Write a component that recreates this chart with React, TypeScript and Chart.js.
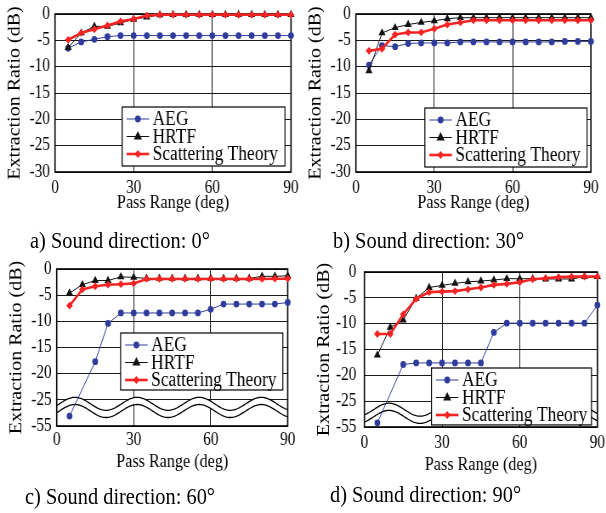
import React, { useEffect, useRef } from "react";
import { Chart, registerables } from "chart.js";

Chart.register(...registerables);

const S = 0.85; // horizontal squeeze of the whole figure
const FONT = "'Liberation Serif', 'Times New Roman', Times, serif";

const passRange = [5, 10, 15, 20, 25, 30, 35, 40, 45, 50, 55, 60, 65, 70, 75, 80, 85, 90];
const xTickValues = [0, 30, 60, 90];
const yTickValues = [0, -5, -10, -15, -20, -25, -30];
const yTickLabels = ["0", "-5", "-10", "-15", "-20", "-25", "-30"];
const yTickLabelsBroken = ["0", "-5", "-10", "-15", "-20", "-25", "-55"];
const seriesNames = ["AEG", "HRTF", "Scattering Theory"];
const captions = [
  "a) Sound direction: 0°",
  "b) Sound direction: 30°",
  "c) Sound direction: 60°",
  "d) Sound direction: 90°",
];

// a) 0 deg
const aeg0 = [-6.5, -5.3, -4.8, -4.3, -4.1, -4.1, -4.1, -4.1, -4.1, -4.1, -4.1, -4.1, -4.1, -4.1, -4.1, -4.1, -4.1, -4.1];
const hrtf0 = [-6.4, -3.6, -2.35, -2.35, -1.7, -1.0, -0.6, -0.15, -0.1, -0.1, -0.1, -0.1, -0.1, -0.1, -0.1, -0.1, -0.1, -0.1];
const scat0 = [-4.9, -3.6, -2.9, -2.2, -1.4, -0.95, -0.3, -0.15, -0.15, -0.15, -0.15, -0.15, -0.15, -0.15, -0.15, -0.15, -0.15, -0.15];

// b) 30 deg
const aeg30 = [-9.7, -6.0, -6.2, -5.6, -5.5, -5.5, -5.5, -5.3, -5.3, -5.3, -5.3, -5.3, -5.3, -5.3, -5.3, -5.2, -5.2, -5.2];
const hrtf30 = [-10.8, -3.6, -2.6, -2.0, -1.6, -1.3, -0.9, -0.7, -0.7, -0.7, -0.7, -0.7, -0.7, -0.7, -0.7, -0.7, -0.7, -0.7];
const scat30 = [-7.0, -6.6, -3.9, -3.5, -3.5, -2.8, -2.0, -1.6, -1.2, -1.2, -1.2, -1.2, -1.2, -1.2, -1.2, -1.2, -1.2, -1.2];

// c) 60 deg (values below -30 are on the broken part of the axis)
const aeg60 = [-53.1, null, -17.7, -10.4, -8.4, -8.4, -8.4, -8.4, -8.4, -8.4, -8.4, -7.7, -6.7, -6.7, -6.7, -6.7, -6.7, -6.4];
const hrtf60 = [-4.6, -3.0, -2.2, -2.2, -1.5, -1.6, -1.8, -1.8, -1.8, -1.8, -1.8, -1.8, -1.8, -1.8, -1.8, -1.4, -1.4, -1.3];
const scat60 = [-7.0, -3.9, -3.3, -3.0, -2.9, -2.75, -1.9, -1.9, -1.9, -1.9, -1.9, -1.9, -1.9, -1.9, -1.9, -1.9, -1.85, -1.85];

// d) 90 deg
const aeg90 = [-54.2, null, -17.9, -17.6, -17.6, -17.6, -17.6, -17.6, -17.6, -11.7, -9.9, -9.9, -9.9, -9.9, -9.9, -9.9, -9.9, -6.4];
const hrtf90 = [-16.1, -10.7, -9.3, -5.1, -3.0, -2.6, -2.2, -1.9, -1.75, -1.55, -1.3, -1.3, -1.3, -1.35, -1.35, -1.35, -0.9, -0.9];
const scat90 = [-12.0, -12.0, -8.2, -5.2, -3.9, -3.8, -3.7, -3.35, -3.0, -2.5, -2.3, -2.0, -1.4, -1.2, -1.0, -0.9, -0.9, -0.9];

const BLUE = "#2f3c9c";
const RED = "#f42424";
const BLACK = "#111111";

type PanelCfg = {
  caption: string;
  capLeft: number;
  capY: number;
  aeg: (number | null)[];
  hrtf: (number | null)[];
  scat: (number | null)[];
  broken: boolean;
  L: number; R: number; T: number; B: number;
  yTickPad: number;
  xTickGap: number;
  xTitleGap: number;
  legendBox: [number, number, number, number];
  wave?: { center: number; period: number; peak: number };
};

const panels: PanelCfg[] = [
  {
    caption: captions[0], capLeft: 30, capY: 240,
    aeg: aeg0, hrtf: hrtf0, scat: scat0, broken: false,
    L: 55, R: 291, T: 14, B: 172, yTickPad: 5, xTickGap: 16, xTitleGap: 31,
    legendBox: [25.6, 87.7, -17.66, -28.86],
  },
  {
    caption: captions[1], capLeft: 333, capY: 240,
    aeg: aeg30, hrtf: hrtf30, scat: scat30, broken: false,
    L: 356, R: 591, T: 14, B: 172, yTickPad: 5, xTickGap: 16, xTitleGap: 31,
    legendBox: [26.4, 88.5, -17.85, -29.05],
  },
  {
    caption: captions[2], capLeft: 25, capY: 496,
    aeg: aeg60, hrtf: hrtf60, scat: scat60, broken: true,
    L: 57, R: 288, T: 269, B: 426, yTickPad: 5, xTickGap: 14, xTitleGap: 36,
    legendBox: [24.9, 88.1, -12.23, -23.12],
    wave: { center: -25.76, period: 24.2, peak: 7.1 },
  },
  {
    caption: captions[3], capLeft: 330, capY: 494,
    aeg: aeg90, hrtf: hrtf90, scat: scat90, broken: true,
    L: 364, R: 597, T: 272, B: 427, yTickPad: 8, xTickGap: 16, xTitleGap: 38,
    legendBox: [25.9, 87.7, -18.58, -29.6],
    wave: { center: -26.65, period: 24, peak: 9.5 },
  },
];

const YW = 55 / S;
const PT = 24;
const PR = 18;
const XH = 52;
const TICK_SIZE = 18;
const XTITLE_SIZE = 19;
const YTITLE_SIZE = 20;
const LEGEND_SIZE = 20.5;
const CAPTION_SIZE = 24;
const GRID = "#1a1a1a";

function toPlot(v: number | null, broken: boolean): number | null {
  if (v === null) return null;
  return broken && v < -30 ? v + 25 : v;
}

function drawMarker(ctx: CanvasRenderingContext2D, style: string, x: number, y: number, r: number, color: string) {
  ctx.beginPath();
  if (style === "circle") {
    ctx.arc(x, y, r, 0, Math.PI * 2);
  } else if (style === "triangle") {
    ctx.moveTo(x, y - r * 1.15);
    ctx.lineTo(x + r, y + r * 0.6);
    ctx.lineTo(x - r, y + r * 0.6);
    ctx.closePath();
  } else {
    ctx.moveTo(x, y - r);
    ctx.lineTo(x + r, y);
    ctx.lineTo(x, y + r);
    ctx.lineTo(x - r, y);
    ctx.closePath();
  }
  ctx.fillStyle = color;
  ctx.fill();
}

function PanelChart({ p }: { p: PanelCfg }) {
  const ref = useRef<HTMLCanvasElement | null>(null);
  const plotW = (p.R - p.L) / S;
  const plotH = p.B - p.T;
  const cw = Math.round(YW + plotW + PR);
  const ch = Math.round(PT + plotH + XH);
  const left = (p.L - 55) / S;
  const top = p.T - PT;

  useEffect(() => {
    const canvas = ref.current;
    if (!canvas) return;
    const styles = ["circle", "triangle", "rectRot"];
    const radii = [3.4, 4.8, 3.9];
    const colors = [BLUE, BLACK, RED];
    const widths = [1, 1, 2.6];
    const series = [p.aeg, p.hrtf, p.scat];

    const datasets = series.map((arr, i) => ({
      label: seriesNames[i],
      data: passRange.map((x, j) => ({ x, y: toPlot(arr[j], p.broken) })),
      borderColor: colors[i],
      backgroundColor: colors[i],
      borderWidth: widths[i],
      pointStyle: styles[i] as any,
      pointRadius: radii[i],
      pointBorderWidth: 0,
      pointBackgroundColor: colors[i],
      tension: 0,
      spanGaps: true,
      clip: false as any,
      order: 2 - i,
    }));

    const framePlugin = {
      id: "frameAndWave",
      beforeDatasetsDraw(chart: any) {
        const { ctx, chartArea, scales } = chart;
        const xs = scales.x, ys = scales.y;
        ctx.save();
        if (p.wave) {
          const w = p.wave;
          const cU = ys.getPixelForValue(w.center);
          const cLo = cU + 7.2;
          const A = 6.5;
          const up: [number, number][] = [];
          const lo: [number, number][] = [];
          for (let px = chartArea.left; px <= chartArea.right + 0.01; px += 1) {
            const deg = xs.getValueForPixel(px);
            const ph = Math.cos((2 * Math.PI * (deg - w.peak)) / w.period);
            up.push([px, cU - A * ph]);
            lo.push([px, cLo - A * ph]);
          }
          ctx.beginPath();
          up.forEach(([a, b], k) => (k ? ctx.lineTo(a, b) : ctx.moveTo(a, b)));
          for (let k = lo.length - 1; k >= 0; k--) ctx.lineTo(lo[k][0], lo[k][1]);
          ctx.closePath();
          ctx.fillStyle = "#ffffff";
          ctx.fill();
          ctx.strokeStyle = "#000";
          ctx.lineWidth = 1.3;
          ctx.beginPath();
          up.forEach(([a, b], k) => (k ? ctx.lineTo(a, b) : ctx.moveTo(a, b)));
          ctx.stroke();
          ctx.beginPath();
          lo.forEach(([a, b], k) => (k ? ctx.lineTo(a, b) : ctx.moveTo(a, b)));
          ctx.stroke();
        }
        ctx.strokeStyle = "#000";
        ctx.lineWidth = 1.6;
        ctx.strokeRect(chartArea.left, chartArea.top, chartArea.right - chartArea.left, chartArea.bottom - chartArea.top);
        ctx.restore();
      },
    };

    const legendPlugin = {
      id: "boxLegend",
      afterDatasetsDraw(chart: any) {
        const { ctx, scales } = chart;
        const xs = scales.x, ys = scales.y;
        const b = p.legendBox;
        const x0 = xs.getPixelForValue(b[0]);
        const x1 = xs.getPixelForValue(b[1]);
        const y0 = ys.getPixelForValue(b[2]);
        const y1 = ys.getPixelForValue(b[3]);
        ctx.save();
        ctx.fillStyle = "#fff";
        ctx.fillRect(x0, y0, x1 - x0, y1 - y0);
        ctx.strokeStyle = "#000";
        ctx.lineWidth = 1.2;
        ctx.strokeRect(x0, y0, x1 - x0, y1 - y0);
        const rows = [12, 29.5, 47];
        chart.data.datasets.forEach((ds: any, i: number) => {
          const cy = y0 + rows[i];
          ctx.strokeStyle = ds.borderColor;
          ctx.lineWidth = ds.borderWidth;
          ctx.beginPath();
          ctx.moveTo(x0 + 4.5 / S, cy);
          ctx.lineTo(x0 + 27 / S, cy);
          ctx.stroke();
          drawMarker(ctx, ds.pointStyle, x0 + 15.75 / S, cy, ds.pointRadius, ds.borderColor);
          ctx.fillStyle = "#000";
          ctx.font = `${LEGEND_SIZE}px ${FONT}`;
          ctx.textBaseline = "middle";
          ctx.textAlign = "left";
          ctx.fillText(ds.label, x0 + 30.5 / S, cy + 1);
        });
        ctx.restore();
      },
    };

    const yLabels = p.broken ? yTickLabelsBroken : yTickLabels;

    const chart = new Chart(canvas, {
      type: "line",
      data: { datasets: datasets as any },
      options: {
        responsive: false,
        animation: false,
        events: [],
        layout: { padding: { top: PT, right: cw - YW - plotW, left: 0, bottom: 0 } },
        plugins: { legend: { display: false }, tooltip: { enabled: false }, title: { display: false } },
        scales: {
          x: {
            type: "linear",
            min: 0,
            max: 90,
            afterFit: (s: any) => { s.height = XH; },
            afterBuildTicks: (s: any) => { s.ticks = xTickValues.map((v) => ({ value: v })); },
            grid: { color: GRID, lineWidth: 1, drawTicks: false },
            border: { display: false },
            ticks: {
              color: "#000",
              font: { family: FONT, size: TICK_SIZE },
              padding: p.xTickGap - (TICK_SIZE * 1.2) / 2,
              maxRotation: 0,
              callback: (v: any) => String(v),
            },
            title: {
              display: true,
              text: "Pass Range (deg)",
              color: "#000",
              font: { family: FONT, size: XTITLE_SIZE },
              padding: { top: 0, bottom: XH - (XTITLE_SIZE * 1.2) / 2 - p.xTitleGap },
            },
          },
          y: {
            type: "linear",
            min: -30,
            max: 0,
            afterFit: (s: any) => { s.width = YW; },
            afterBuildTicks: (s: any) => { s.ticks = yTickValues.map((v) => ({ value: v })); },
            grid: { color: GRID, lineWidth: 1, drawTicks: false },
            border: { display: false },
            ticks: {
              color: "#000",
              font: { family: FONT, size: TICK_SIZE },
              padding: p.yTickPad / S,
              callback: (v: any) => {
                const k = yTickValues.indexOf(Number(v));
                return k >= 0 ? yLabels[k] : "";
              },
            },
            title: {
              display: true,
              text: "Extraction Ratio (dB)",
              color: "#000",
              font: { family: FONT, size: YTITLE_SIZE },
              padding: { top: 15 / S - (YTITLE_SIZE * 1.2) / 2, bottom: 0 },
            },
          },
        },
      },
      plugins: [framePlugin, legendPlugin],
    });
    return () => chart.destroy();
  }, []);

  return (
    <>
      <canvas
        ref={ref}
        width={cw}
        height={ch}
        style={{ position: "absolute", left, top, width: cw, height: ch }}
      />
      <div
        style={{
          position: "absolute",
          left: p.capLeft / S,
          top: p.capY - 15,
          height: 30,
          lineHeight: "30px",
          fontFamily: FONT,
          fontSize: CAPTION_SIZE,
          color: "#000",
          whiteSpace: "nowrap",
        }}
      >
        {p.caption}
      </div>
    </>
  );
}

export default function App() {
  return (
    <div
      style={{
        position: "absolute",
        left: 0,
        top: 0,
        width: 606,
        height: 513,
        overflow: "hidden",
        background: "#fff",
      }}
    >
      <div
        style={{
          position: "absolute",
          left: 0,
          top: 0,
          width: 606 / S,
          height: 513,
          transform: `scaleX(${S})`,
          transformOrigin: "0 0",
        }}
      >
        {panels.map((p, i) => (
          <PanelChart key={i} p={p} />
        ))}
      </div>
    </div>
  );
}
